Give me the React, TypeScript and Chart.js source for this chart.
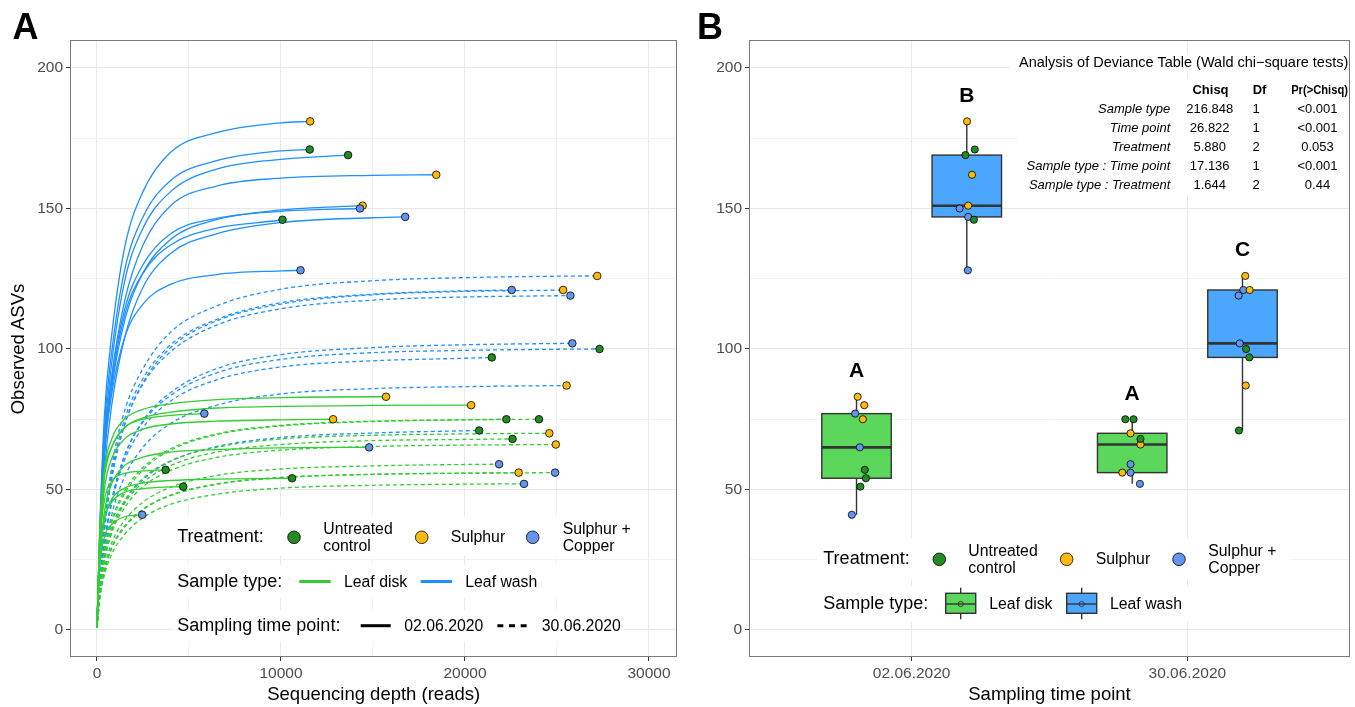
import React, { useEffect, useRef } from 'react';
import { Chart, registerables } from 'chart.js';

Chart.register(...registerables);

const FONT = '"Liberation Sans", Arial, Helvetica, sans-serif';

// ---------- categories & styling keys ----------
const treatmentCodes = ['U', 'S', 'C'];
const treatmentLabels = ['Untreated\ncontrol', 'Sulphur', 'Sulphur +\nCopper'];
const treatmentFill = ['#228B22', '#FFB90F', '#6495ED'];
const sampleTypes = ['Leaf disk', 'Leaf wash'];
const sampleLine = ['#32CD32', '#1E90FF'];
const sampleBoxFill = ['rgba(50,205,50,0.8)', 'rgba(30,144,255,0.8)'];
const timePoints = ['02.06.2020', '30.06.2020'];

// ---------- axes ----------
const yMin = -9.61;
const yMax = 209.96;
const yTickValues = [0, 25, 50, 75, 100, 125, 150, 175, 200];
const yLabelled = [0, 50, 100, 150, 200];
const depthMin = -1467;
const depthMax = 31522;
const depthTicks = [0, 5000, 10000, 15000, 20000, 25000, 30000];
const depthLabelled = [0, 10000, 20000, 30000];

// rarefaction sampling depths (reads) at which curve values were read
const depthGrid = [0, 150, 400, 800, 1500, 2500, 4000, 6500, 10000, 15000, 20000, 25000];

// ---------- Leaf disk, 02.06.2020 ----------
const diskJun02Depth = [15708, 20333, 5833, 12833, 14792, 3729, 10604, 4687, 2458];
const diskJun02Richness = [83, 80, 77, 75, 65, 57, 54, 51, 41];
const diskJun02Treatment = ['S', 'S', 'C', 'S', 'C', 'U', 'U', 'U', 'C'];
const diskJun02Jitter = [0.004, 0.028, -0.005, 0.023, 0.012, 0.03, 0.034, 0.014, -0.017];
const diskJun02Curves = [
  [1, 35, 57, 68, 75, 78.5, 80.5, 82, 82.7, 83],
  [1, 33, 54, 65, 72, 75.5, 77.5, 79, 79.6, 79.9, 80],
  [1, 36, 56, 65, 72, 75, 76.4],
  [1, 30, 50, 61, 68, 71.5, 73.3, 74.3, 74.8],
  [1, 25, 42, 52, 58.5, 61.5, 63.3, 64.2, 64.8],
  [1, 30, 46, 53, 55.7, 56.6],
  [1, 24, 39, 46.5, 50.5, 52.3, 53.2, 53.7, 53.95],
  [1, 25, 39, 45.5, 49, 50.3, 50.9],
  [1, 22, 33, 37.5, 40.3],
];

// ---------- Leaf wash, 02.06.2020 ----------
const washJun02Depth = [11583, 11562, 13646, 18437, 14437, 14292, 10083, 16750, 11062];
const washJun02Richness = [181, 171, 169, 162, 151, 150, 146, 147, 128];
const washJun02Treatment = ['S', 'U', 'U', 'S', 'S', 'C', 'U', 'C', 'C'];
const washJun02Jitter = [0.001, 0.029, -0.005, 0.019, 0.005, -0.026, 0.026, 0.005, 0.004];
const washJun02Curves = [
  [1, 36, 76, 105, 136, 156, 170, 177, 180.5],
  [1, 34, 72, 99, 128, 147, 160, 167, 170.5],
  [1, 32, 68, 95, 124, 143, 156, 164, 167.5],
  [1, 30, 63, 90, 117, 137, 151, 158, 160.8, 161.8],
  [1, 30, 62, 86, 110, 127, 139, 146, 149.5],
  [1, 32, 66, 90, 114, 130, 141, 146.5, 149],
  [1, 31, 64, 88, 112, 127, 137, 143, 145.9],
  [1, 26, 56, 80, 104, 122, 134, 141, 145, 146.7],
  [1, 30, 62, 84, 104, 116, 123, 126.5, 127.8],
];

// ---------- Leaf disk, 30.06.2020 ----------
const diskJun30Depth = [22250, 24021, 24583, 22583, 24937, 21854, 22917, 24896, 23208];
const diskJun30Richness = [75, 75, 70, 68, 66, 59, 56, 56, 52];
const diskJun30Treatment = ['U', 'U', 'S', 'U', 'S', 'C', 'S', 'C', 'C'];
const diskJun30Jitter = [-0.025, 0.005, -0.006, 0.03, 0.03, -0.006, -0.036, -0.006, 0.028];
const diskJun30Curves = [
  [1, 15, 28, 39, 49.5, 57.8, 64.5, 69.8, 72.8, 74.3, 74.8],
  [1, 14, 27, 38, 48.5, 57, 64, 69.5, 72.6, 74.2, 74.8],
  [1, 14, 26, 36.5, 46, 54, 60.2, 65, 68, 69.3, 69.8],
  [1, 14, 25.5, 35.5, 45, 52.5, 58.5, 63.3, 66, 67.4, 67.8],
  [1, 13, 24.5, 34.5, 43.5, 51, 56.8, 61.4, 64, 65.3, 65.8],
  [1, 12.5, 22, 31, 39, 45.5, 50.8, 55, 57.3, 58.4, 58.9],
  [1, 12, 21, 29.5, 37, 43, 48, 52, 54.3, 55.4, 55.8],
  [1, 11.5, 20.5, 29, 36.5, 42.8, 47.8, 51.8, 54.2, 55.4, 55.8],
  [1, 11, 19.5, 27, 34, 40, 44.7, 48.3, 50.5, 51.5, 51.9],
];

// ---------- Leaf wash, 30.06.2020 ----------
const washJun30Depth = [27187, 22540, 25333, 25729, 25833, 27312, 21458, 25521, 20771];
const washJun30Richness = [126, 121, 121, 119, 102, 100, 97, 87, 71];
const washJun30Treatment = ['S', 'C', 'S', 'C', 'C', 'U', 'U', 'S', 'U'];
const washJun30Jitter = [0.01, 0.003, 0.026, -0.014, -0.01, 0.013, 0.025, 0.012, -0.013];
const washJun30Curves = [
  [1, 16, 38, 58, 78, 93, 106, 115.3, 121.3, 124.3, 125.4, 125.9],
  [1, 16, 37, 56, 75, 89.5, 101.5, 110.5, 116.5, 119.5, 120.7],
  [1, 15, 35, 54, 73, 88, 100.5, 110, 116, 119.3, 120.5, 120.95],
  [1, 15, 35, 54, 73, 87.5, 99, 108.5, 114.3, 117.4, 118.5, 118.95],
  [1, 13, 30, 46, 62, 74.5, 84.5, 93, 98, 100.5, 101.5, 101.95],
  [1, 13, 30, 46, 62, 74, 83.5, 91.5, 96.3, 98.7, 99.5, 99.9],
  [1, 13, 30, 45, 60.5, 72, 81.5, 89, 93.6, 95.8, 96.7],
  [1, 12, 27, 41, 54.5, 65, 73.5, 80, 84, 85.9, 86.6, 86.97],
  [1, 11, 24, 35, 45.5, 53.5, 60, 65.3, 68.5, 70.1, 70.9],
];

// ---------- compact letter display ----------
const groupLetters = ['A', 'B', 'A', 'C'];
const letterValues = [92.6, 190.7, 84.5, 135.9];

// ---------- Analysis of deviance table ----------
const anovaTerms = ['Sample type', 'Time point', 'Treatment', 'Sample type : Time point', 'Sample type : Treatment'];
const anovaChisq = ['216.848', '26.822', '5.880', '17.136', '1.644'];
const anovaDf = ['1', '1', '2', '1', '2'];
const anovaP = ['<0.001', '<0.001', '0.053', '<0.001', '0.44'];

const groups = [
  { sample: 0, time: 0, depth: diskJun02Depth, richness: diskJun02Richness, treatment: diskJun02Treatment, jitter: diskJun02Jitter, curves: diskJun02Curves },
  { sample: 1, time: 0, depth: washJun02Depth, richness: washJun02Richness, treatment: washJun02Treatment, jitter: washJun02Jitter, curves: washJun02Curves },
  { sample: 0, time: 1, depth: diskJun30Depth, richness: diskJun30Richness, treatment: diskJun30Treatment, jitter: diskJun30Jitter, curves: diskJun30Curves },
  { sample: 1, time: 1, depth: washJun30Depth, richness: washJun30Richness, treatment: washJun30Treatment, jitter: washJun30Jitter, curves: washJun30Curves },
];

const DODGE = 0.2;
const BOX_HALF = 0.126;
const groupPos = (g: any) => g.time + 1 + (g.sample === 0 ? -DODGE : DODGE);

const MAJOR = '#E8E8E8';
const MINOR = '#F3F3F3';

function gridOpts(majors: number[]) {
  return {
    color: (c: any) => (c.tick && majors.includes(c.tick.value) ? MAJOR : MINOR),
    lineWidth: 1,
    tickColor: (c: any) => (c.tick && majors.includes(c.tick.value) ? '#333333' : 'rgba(0,0,0,0)'),
    tickLength: 4,
    drawTicks: true,
  };
}

function tickOpts(cb: (v: number) => string, padding: number) {
  return {
    autoSkip: false,
    maxRotation: 0,
    minRotation: 0,
    padding,
    color: '#4D4D4D',
    font: { family: FONT, size: 15.5 },
    callback: (v: any) => cb(Number(v)),
  };
}

function yScale(width: number) {
  return {
    type: 'linear',
    position: 'left',
    min: yMin,
    max: yMax,
    afterBuildTicks: (s: any) => {
      s.ticks = yTickValues.map((v) => ({ value: v }));
    },
    afterFit: (s: any) => {
      s.width = width;
      s.paddingTop = 0;
      s.paddingBottom = 0;
    },
    grid: gridOpts(yLabelled),
    border: { display: false },
    ticks: tickOpts((v) => (yLabelled.includes(v) ? String(v) : ''), 3),
  };
}

function fitX(s: any) {
  s.height = 50;
  s.paddingLeft = 0;
  s.paddingRight = 0;
}

const borderPlugin = {
  id: 'panelBorder',
  afterDraw(chart: any) {
    const { ctx, chartArea } = chart;
    ctx.save();
    ctx.strokeStyle = '#7A7A7A';
    ctx.lineWidth = 1;
    ctx.strokeRect(chartArea.left + 0.5, chartArea.top + 0.5, chartArea.right - chartArea.left - 1, chartArea.bottom - chartArea.top - 1);
    ctx.restore();
  },
};

function quantile(sorted: number[], p: number) {
  const h = (sorted.length - 1) * p;
  const lo = Math.floor(h);
  const hi = Math.min(lo + 1, sorted.length - 1);
  return sorted[lo] + (h - lo) * (sorted[hi] - sorted[lo]);
}

const boxPlugin = {
  id: 'boxes',
  beforeDatasetsDraw(chart: any) {
    const { ctx } = chart;
    const x = chart.scales.x;
    const y = chart.scales.y;
    ctx.save();
    groups.forEach((g) => {
      const s = [...g.richness].sort((a, b) => a - b);
      const q1 = quantile(s, 0.25);
      const med = quantile(s, 0.5);
      const q3 = quantile(s, 0.75);
      const iqr = q3 - q1;
      const lo = Math.min(...s.filter((v) => v >= q1 - 1.5 * iqr));
      const hi = Math.max(...s.filter((v) => v <= q3 + 1.5 * iqr));
      const pos = groupPos(g);
      const cx = x.getPixelForValue(pos);
      const x0 = x.getPixelForValue(pos - BOX_HALF);
      const x1 = x.getPixelForValue(pos + BOX_HALF);
      ctx.strokeStyle = '#333333';
      ctx.lineWidth = 1.4;
      ctx.beginPath();
      ctx.moveTo(cx, y.getPixelForValue(hi));
      ctx.lineTo(cx, y.getPixelForValue(q3));
      ctx.moveTo(cx, y.getPixelForValue(q1));
      ctx.lineTo(cx, y.getPixelForValue(lo));
      ctx.stroke();
      const yt = y.getPixelForValue(q3);
      const yb = y.getPixelForValue(q1);
      ctx.fillStyle = sampleBoxFill[g.sample];
      ctx.fillRect(x0, yt, x1 - x0, yb - yt);
      ctx.strokeRect(x0, yt, x1 - x0, yb - yt);
      ctx.lineWidth = 2.6;
      ctx.beginPath();
      const ym = y.getPixelForValue(med);
      ctx.moveTo(x0, ym);
      ctx.lineTo(x1, ym);
      ctx.stroke();
    });
    ctx.restore();
  },
  afterDatasetsDraw(chart: any) {
    const { ctx } = chart;
    const x = chart.scales.x;
    const y = chart.scales.y;
    ctx.save();
    ctx.fillStyle = '#000000';
    ctx.font = `bold 21px ${FONT}`;
    ctx.textAlign = 'center';
    ctx.textBaseline = 'alphabetic';
    groups.forEach((g, i) => {
      ctx.fillText(groupLetters[i], x.getPixelForValue(groupPos(g)), y.getPixelForValue(letterValues[i]) + 7.5);
    });
    ctx.restore();
  },
};

function curvePoints(g: any, i: number) {
  const pts: { x: number; y: number }[] = [];
  const vals = g.curves[i];
  for (let k = 0; k < vals.length; k++) {
    if (depthGrid[k] < g.depth[i]) pts.push({ x: depthGrid[k], y: vals[k] });
  }
  pts.push({ x: g.depth[i], y: g.richness[i] });
  return pts;
}

function configA() {
  const datasets: any[] = [];
  const endPts: any[] = [];
  const endColors: string[] = [];
  groups.forEach((g) => {
    g.depth.forEach((d: number, i: number) => {
      datasets.push({
        data: curvePoints(g, i),
        borderColor: sampleLine[g.sample],
        borderWidth: 1.3,
        borderDash: g.time === 1 ? [4, 3] : [],
        pointRadius: 0,
        pointHoverRadius: 0,
        fill: false,
        cubicInterpolationMode: 'monotone',
        order: g.sample === 0 ? 1 : 2,
      });
      endPts.push({ x: d, y: g.richness[i] });
      endColors.push(treatmentFill[treatmentCodes.indexOf(g.treatment[i])]);
    });
  });
  datasets.push({
    data: endPts,
    showLine: false,
    pointRadius: 3.8,
    pointBackgroundColor: endColors,
    pointBorderColor: '#000000',
    pointBorderWidth: 0.8,
    order: 0,
  });
  return {
    type: 'line',
    data: { datasets },
    options: {
      animation: false,
      responsive: false,
      devicePixelRatio: 1,
      layout: { autoPadding: false, padding: { top: 40, right: 3, left: 0, bottom: 0 } },
      plugins: { legend: { display: false }, tooltip: { enabled: false } },
      events: [],
      scales: {
        x: {
          type: 'linear',
          position: 'bottom',
          min: depthMin,
          max: depthMax,
          afterBuildTicks: (s: any) => {
            s.ticks = depthTicks.map((v) => ({ value: v }));
          },
          afterFit: fitX,
          grid: gridOpts(depthLabelled),
          border: { display: false },
          ticks: tickOpts((v) => (depthLabelled.includes(v) ? String(v) : ''), 3),
        },
        y: yScale(70),
      },
    },
    plugins: [borderPlugin],
  };
}

function configB() {
  const datasets = treatmentCodes.map((code, t) => {
    const data: any[] = [];
    groups.forEach((g) => {
      g.treatment.forEach((tc: string, i: number) => {
        if (tc === code) data.push({ x: groupPos(g) + g.jitter[i], y: g.richness[i] });
      });
    });
    return {
      data,
      pointRadius: 3.6,
      pointBackgroundColor: treatmentFill[t],
      pointBorderColor: '#000000',
      pointBorderWidth: 0.8,
      showLine: false,
    };
  });
  return {
    type: 'scatter',
    data: { datasets },
    options: {
      animation: false,
      responsive: false,
      devicePixelRatio: 1,
      layout: { autoPadding: false, padding: { top: 40, right: 5, left: 0, bottom: 0 } },
      plugins: { legend: { display: false }, tooltip: { enabled: false } },
      events: [],
      scales: {
        x: {
          type: 'linear',
          position: 'bottom',
          min: 0.41,
          max: 2.59,
          afterBuildTicks: (s: any) => {
            s.ticks = timePoints.map((_, i) => ({ value: i + 1 }));
          },
          afterFit: fitX,
          grid: gridOpts([1, 2]),
          border: { display: false },
          ticks: tickOpts((v) => timePoints[Math.round(v) - 1] ?? '', 3),
        },
        y: yScale(69),
      },
    },
    plugins: [boxPlugin, borderPlugin],
  };
}

type TxtProps = {
  x: number;
  y: number;
  s: number;
  a?: 'l' | 'c' | 'r';
  b?: boolean;
  i?: boolean;
  lh?: number;
  rot?: boolean;
  sx?: number;
  children: React.ReactNode;
};

function Txt({ x, y, s, a = 'l', b, i, lh, rot, sx, children }: TxtProps) {
  const tx = a === 'l' ? '0' : a === 'c' ? '-50%' : '-100%';
  return (
    <div
      style={{
        position: 'absolute',
        left: x,
        top: y,
        transform: `translate(${tx},-50%)${rot ? ' rotate(-90deg)' : ''}${sx ? ` scaleX(${sx})` : ''}`,
        transformOrigin: sx ? (a === 'r' ? 'right center' : 'center') : undefined,
        fontSize: s,
        fontWeight: b ? 700 : 400,
        fontStyle: i ? 'italic' : 'normal',
        color: '#000',
        lineHeight: lh ? `${lh}px` : 1.1,
        whiteSpace: 'pre',
        textAlign: a === 'r' ? 'right' : a === 'c' ? 'center' : 'left',
      }}
    >
      {children}
    </div>
  );
}

function BoxKey({ x, y, fill }: { x: number; y: number; fill: string }) {
  return (
    <g>
      <line x1={x + 15} y1={y - 16.3} x2={x + 15} y2={y - 10.7} stroke="#333" strokeWidth={1.4} />
      <line x1={x + 15} y1={y + 9.3} x2={x + 15} y2={y + 15.3} stroke="#333" strokeWidth={1.4} />
      <rect x={x} y={y - 10.7} width={30} height={20} fill={fill} stroke="#333" strokeWidth={1.4} />
      <line x1={x} y1={y} x2={x + 30} y2={y} stroke="#333" strokeWidth={1.4} />
      <circle cx={x + 15} cy={y} r={2.6} fill="none" stroke="#333" strokeWidth={0.9} />
    </g>
  );
}

export default function App() {
  const refA = useRef<HTMLCanvasElement>(null);
  const refB = useRef<HTMLCanvasElement>(null);

  useEffect(() => {
    const a = new Chart(refA.current as HTMLCanvasElement, configA() as any);
    const b = new Chart(refB.current as HTMLCanvasElement, configB() as any);
    return () => {
      a.destroy();
      b.destroy();
    };
  }, []);

  const legendA = { dotX: [294, 421.7, 532.7], labX: [323.3, 450.7, 562.7] };
  const legendB = { dotX: [939.3, 1066.7, 1179], labX: [968.3, 1095.7, 1208.3] };

  return (
    <div
      style={{
        position: 'fixed',
        left: 0,
        top: 0,
        width: 1355,
        height: 707,
        background: '#fff',
        overflow: 'hidden',
        fontFamily: FONT,
      }}
    >
      <canvas ref={refA} width={680} height={707} style={{ position: 'absolute', left: 0, top: 0, width: 680, height: 707 }} />
      <canvas ref={refB} width={675} height={707} style={{ position: 'absolute', left: 680, top: 0, width: 675, height: 707 }} />

      <svg width={1355} height={707} style={{ position: 'absolute', left: 0, top: 0, pointerEvents: 'none' }}>
        {/* legend backgrounds, panel A */}
        <rect x={172} y={516} width={456} height={40} fill="#fff" />
        <rect x={172} y={565} width={388} height={33} fill="#fff" />
        <rect x={172} y={610} width={453} height={32} fill="#fff" />
        {/* legend backgrounds, panel B */}
        <rect x={818} y={538} width={472} height={42} fill="#fff" />
        <rect x={818} y={586} width={372} height={36} fill="#fff" />
        {/* table backgrounds */}
        <rect x={1010} y={54} width={339} height={19} fill="#fff" />
        <rect x={1018} y={80} width={331} height={115} fill="#fff" />

        {legendA.dotX.map((cx, i) => (
          <circle key={'ad' + i} cx={cx} cy={537.3} r={6.3} fill={treatmentFill[i]} stroke="#000" strokeWidth={0.8} />
        ))}
        <line x1={299.3} y1={581.5} x2={330.7} y2={581.5} stroke={sampleLine[0]} strokeWidth={3} />
        <line x1={420.7} y1={581.5} x2={452} y2={581.5} stroke={sampleLine[1]} strokeWidth={3} />
        <line x1={360.7} y1={625.7} x2={390.7} y2={625.7} stroke="#000" strokeWidth={3} />
        <line x1={497.3} y1={625.7} x2={526.7} y2={625.7} stroke="#000" strokeWidth={3} strokeDasharray="6 5.7" />

        {legendB.dotX.map((cx, i) => (
          <circle key={'bd' + i} cx={cx} cy={559.3} r={6.3} fill={treatmentFill[i]} stroke="#000" strokeWidth={0.8} />
        ))}
        <BoxKey x={945.7} y={604} fill={sampleBoxFill[0]} />
        <BoxKey x={1066.7} y={604} fill={sampleBoxFill[1]} />
      </svg>

      {/* panel tags */}
      <Txt x={12.5} y={27} s={36} b>A</Txt>
      <Txt x={697} y={27} s={36} b>B</Txt>

      {/* axis titles */}
      <Txt x={18} y={348.5} s={18.5} a="c" rot>Observed ASVs</Txt>
      <Txt x={373.7} y={694} s={18.5} a="c">Sequencing depth (reads)</Txt>
      <Txt x={1049.5} y={694} s={18.5} a="c">Sampling time point</Txt>

      {/* legend panel A */}
      <Txt x={177.3} y={537.3} s={18}>Treatment:</Txt>
      {legendA.labX.map((lx, i) => (
        <Txt key={'al' + i} x={lx} y={537} s={15.8} lh={17.3}>{treatmentLabels[i]}</Txt>
      ))}
      <Txt x={177.3} y={581.7} s={18}>Sample type:</Txt>
      <Txt x={344} y={581.7} s={15.8}>{sampleTypes[0]}</Txt>
      <Txt x={465.3} y={581.7} s={15.8}>{sampleTypes[1]}</Txt>
      <Txt x={177.3} y={625.7} s={18}>Sampling time point:</Txt>
      <Txt x={404.3} y={625.7} s={15.8}>{timePoints[0]}</Txt>
      <Txt x={541.7} y={625.7} s={15.8}>{timePoints[1]}</Txt>

      {/* legend panel B */}
      <Txt x={823.3} y={559.3} s={18}>Treatment:</Txt>
      {legendB.labX.map((lx, i) => (
        <Txt key={'bl' + i} x={lx} y={559.2} s={15.8} lh={17.3}>{treatmentLabels[i]}</Txt>
      ))}
      <Txt x={823.3} y={604} s={18}>Sample type:</Txt>
      <Txt x={989.3} y={604} s={15.8}>{sampleTypes[0]}</Txt>
      <Txt x={1110} y={604} s={15.8}>{sampleTypes[1]}</Txt>

      {/* deviance table */}
      <Txt x={1348.3} y={63.3} s={14.5} a="r">Analysis of Deviance Table (Wald chi−square tests)</Txt>
      <Txt x={1210.5} y={90} s={13} a="c" b>Chisq</Txt>
      <Txt x={1259.5} y={90} s={13} a="c" b>Df</Txt>
      <Txt x={1348} y={90} s={13} a="r" b sx={0.86}>Pr(&gt;Chisq)</Txt>
      {anovaTerms.map((term, r) => {
        const yy = 108.5 + r * 19.2;
        return (
          <React.Fragment key={'row' + r}>
            <Txt x={1170.3} y={yy} s={13} a="r" i>{term}</Txt>
            <Txt x={1209.7} y={yy} s={13} a="c">{anovaChisq[r]}</Txt>
            <Txt x={1256} y={yy} s={13} a="c">{anovaDf[r]}</Txt>
            <Txt x={1317.5} y={yy} s={13} a="c">{anovaP[r]}</Txt>
          </React.Fragment>
        );
      })}
    </div>
  );
}
